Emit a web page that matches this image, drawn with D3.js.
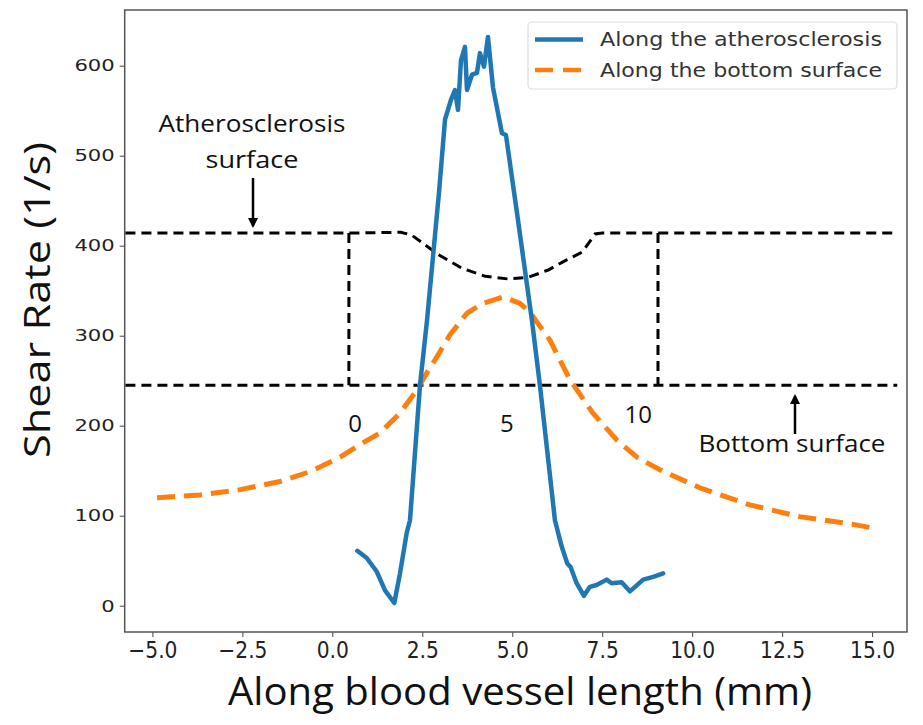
<!DOCTYPE html>
<html><head><meta charset="utf-8">
<script src="https://cdn.jsdelivr.net/npm/d3@7"></script>
<style>body{margin:0;background:#fff;} svg{display:block;}</style>
</head><body>
<script>
// ---- data ----
const xTicks = [-5, -2.5, 0, 2.5, 5, 7.5, 10, 12.5, 15];
const yTicks = [0, 100, 200, 300, 400, 500, 600];
const seriesNames = ["Along the atherosclerosis", "Along the bottom surface"];
const atheroX = [0.694,0.956,1.233,1.464,1.722,1.881,2.067,2.158,2.436,2.631,2.964,3.131,3.297,3.408,3.492,3.575,3.686,3.742,3.881,4.019,4.103,4.214,4.325,4.464,4.714,4.825,5.158,5.547,5.769,6.186,6.372,6.528,6.622,6.789,6.992,7.158,7.344,7.622,7.761,8.039,8.269,8.639,8.917,9.194];
const atheroY = [61,53,38,17,3,36,81,95,245,317,459,540,562,573,551,606,621,573,590,592,614,599,632,576,525,523,429,317,245,95,66,47,43,25,11,21,23,29,25,26,16,29,32,36];
const bottomX = [-4.87,-3.675,-2.564,-1.453,-0.619,0.214,0.769,1.325,1.881,2.353,2.631,2.853,3.269,3.742,4.186,4.742,5.214,5.492,6.047,6.603,7.242,7.908,8.464,9.103,10.214,11.603,12.992,14.381,14.936];
const bottomY = [120,123,129,138,149,165,179,192,214,240,259,273,301,325,336,343,336,326,295,251,214,184,165,151,131,112,99,91,87];
// schematic vessel outline (annotation), in data units
const topSurfX = [-5.75,0.46,1.9,2.2,2.95,3.6,4.25,4.9,5.45,6.0,6.5,6.95,7.3,7.5,15.7];
const topSurfY = [414,414,415,412,390,375,366,363,365,373,384,393,413,414,414];
const botSurfX = [-5.75,15.7];
const botSurfY = [245,245];
const wallX = [0.46, 9.05];
const markerLabels = ["0","5","10"];
const markerX = [0.63, 4.85, 8.5];

// ---- layout ----
const W = 923, H = 725;
const L = 124.7, R = 907, T = 10, B = 632;
const x = d3.scaleLinear().domain([-5.77, 15.97]).range([L, R]);
const y = d3.scaleLinear().domain([-29.2, 661.9]).range([B, T]);

const svg = d3.select("body").append("svg").attr("width", W).attr("height", H);

// axes
const fmtX = d => d3.format(".1f")(d).replace("-", "\u2212");
svg.append("g").attr("transform", `translate(0,${B})`)
  .call(d3.axisBottom(x).tickValues(xTicks).tickFormat(fmtX).tickSize(5).tickPadding(5))
  .call(g => g.select(".domain").remove())
  .call(g => g.selectAll("line").attr("stroke", "#444"))
  .call(g => g.selectAll("text").attr("font-family", "'DejaVu Sans Condensed','DejaVu Sans'").attr("font-size", 22.5).attr("fill", "#222"));
svg.append("g").attr("transform", `translate(${L},0)`)
  .call(d3.axisLeft(y).tickValues(yTicks).tickSize(5).tickPadding(5))
  .call(g => g.select(".domain").remove())
  .call(g => g.selectAll("line").attr("stroke", "#444"))
  .call(g => g.selectAll("text").attr("font-family", "'DejaVu Sans'").attr("font-size", 16.5).attr("fill", "#222")
    .each(function () { const w = this.getComputedTextLength(); d3.select(this).attr("textLength", w * 1.28).attr("lengthAdjust", "spacingAndGlyphs"); }));

// frame
svg.append("rect").attr("x", L).attr("y", T).attr("width", R - L).attr("height", B - T)
  .attr("fill", "none").attr("stroke", "#555").attr("stroke-width", 1.5);

const line = d3.line().x(d => x(d[0])).y(d => y(d[1]));
const zip = (a, b) => a.map((v, i) => [v, b[i]]);

// schematic
const dash = "10,6";
svg.append("path").attr("d", line(zip(topSurfX, topSurfY))).attr("fill", "none")
  .attr("stroke", "#000").attr("stroke-width", 3).attr("stroke-dasharray", dash);
svg.append("path").attr("d", line(zip(botSurfX, botSurfY))).attr("fill", "none")
  .attr("stroke", "#000").attr("stroke-width", 3).attr("stroke-dasharray", dash);
wallX.forEach(w => {
  svg.append("path").attr("d", line([[w, 414], [w, 245]])).attr("fill", "none")
    .attr("stroke", "#000").attr("stroke-width", 3).attr("stroke-dasharray", dash);
});

// series
svg.append("path").attr("d", line(zip(bottomX, bottomY))).attr("fill", "none")
  .attr("stroke", "#ff7f0e").attr("stroke-width", 5).attr("stroke-dasharray", "18,9")
  .attr("stroke-linejoin", "round");
svg.append("path").attr("d", line(zip(atheroX, atheroY))).attr("fill", "none")
  .attr("stroke", "#1f77b4").attr("stroke-width", 4.5).attr("stroke-linejoin", "round").attr("stroke-linecap", "round");

// annotation text
const annFont = "'Liberation Sans Narrow','Open Sans',sans-serif";
const annText = (tx, ty, t, len) => svg.append("text").attr("x", tx).attr("y", ty).attr("text-anchor", "middle")
  .attr("font-family", annFont).attr("font-size", 24).attr("fill", "#111")
  .attr("textLength", len).attr("lengthAdjust", "spacingAndGlyphs").text(t);
markerLabels.forEach((t, i) => {
  svg.append("text").attr("x", x(markerX[i])).attr("y", i === 2 ? 423 : 432).attr("text-anchor", "middle")
    .attr("font-family", annFont).attr("font-size", 24).attr("fill", "#111").text(t);
});
annText(252, 132, "Atherosclerosis", 187);
annText(252, 168, "surface", 93);
annText(792, 452, "Bottom surface", 187);
// arrows
const defs = svg.append("defs");
defs.append("marker").attr("id", "ah").attr("viewBox", "0 0 10 10").attr("refX", 8).attr("refY", 5)
  .attr("markerWidth", 4).attr("markerHeight", 4).attr("orient", "auto")
  .append("path").attr("d", "M0,0L10,5L0,10z").attr("fill", "#000");
svg.append("line").attr("x1", 253).attr("y1", 178).attr("x2", 253).attr("y2", 226)
  .attr("stroke", "#000").attr("stroke-width", 2.5).attr("marker-end", "url(#ah)");
svg.append("line").attr("x1", 795).attr("y1", 434).attr("x2", 795).attr("y2", 396)
  .attr("stroke", "#000").attr("stroke-width", 2.5).attr("marker-end", "url(#ah)");

// legend
const lg = svg.append("g");
lg.append("rect").attr("x", 528).attr("y", 22).attr("width", 369).attr("height", 67).attr("rx", 4)
  .attr("fill", "#fff").attr("stroke", "#ddd").attr("stroke-width", 1.2);
const legStyles = [{c: "#1f77b4", d: null}, {c: "#ff7f0e", d: "18,10"}];
seriesNames.forEach((n, i) => {
  const yy = 39.5 + i * 30.5;
  lg.append("line").attr("x1", 535).attr("x2", 583).attr("y1", yy).attr("y2", yy)
    .attr("stroke", legStyles[i].c).attr("stroke-width", 4.5).attr("stroke-dasharray", legStyles[i].d);
  lg.append("text").attr("x", 600).attr("y", yy + 6.5).attr("font-family", "'DejaVu Sans'")
    .attr("font-size", 19.5).attr("fill", "#333")
    .attr("textLength", 282).attr("lengthAdjust", "spacingAndGlyphs").text(n);
});

// axis titles
const titleFont = "'Liberation Sans Narrow','Open Sans',sans-serif";
svg.append("text").attr("x", 520).attr("y", 705).attr("text-anchor", "middle")
  .attr("font-family", titleFont).attr("font-size", 38).attr("fill", "#111")
  .attr("textLength", 584).attr("lengthAdjust", "spacingAndGlyphs")
  .text("Along blood vessel length (mm)");
svg.append("text").attr("transform", "translate(50,300) rotate(-90)").attr("text-anchor", "middle")
  .attr("font-family", titleFont).attr("font-size", 37).attr("fill", "#111")
  .attr("textLength", 316).attr("lengthAdjust", "spacingAndGlyphs")
  .text("Shear Rate (1/s)");
</script>
</body></html>
